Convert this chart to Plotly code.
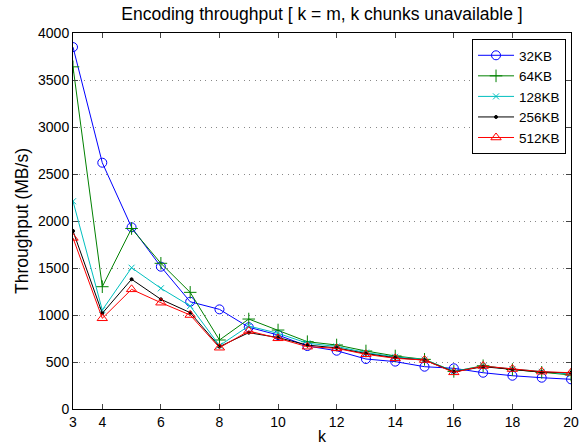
import plotly.graph_objects as go

k = list(range(3, 21))
s32 = [3850, 2620, 1933, 1514, 1141, 1060, 870, 787, 670, 620, 532, 504, 450, 433, 386, 354, 333, 316]
s64 = [3640, 1301, 1920, 1550, 1241, 734, 957, 840, 716, 681, 617, 564, 528, 400, 460, 420, 390, 362]
s128 = [2210, 1053, 1503, 1284, 1096, 674, 883, 805, 700, 665, 600, 555, 525, 400, 455, 425, 395, 370]
s256 = [1894, 1018, 1380, 1167, 1025, 663, 812, 760, 680, 650, 590, 545, 520, 395, 450, 422, 392, 385]
s512 = [1820, 965, 1273, 1131, 1000, 652, 830, 752, 663, 645, 582, 539, 521, 390, 457, 425, 397, 386]

names = ["32KB", "64KB", "128KB", "256KB", "512KB"]
series = [s32, s64, s128, s256, s512]
colors = ["#0000ff", "#008000", "#00bfbf", "#000000", "#ff0000"]
symbols = ["circle-open", "cross-thin-open", "x-thin-open", "circle", "triangle-up-open"]
sizes = [9, 9, 6, 3, 9]

x_ticks = [3, 4, 6, 8, 10, 12, 14, 16, 18, 20]
y_ticks = list(range(0, 4001, 500))

FONT = "Liberation Sans, Arial, Helvetica, sans-serif"

fig = go.Figure()
for n, s, c, sym, sz in zip(names, series, colors, symbols, sizes):
    fig.add_trace(go.Scatter(
        x=k, y=s, name=n, mode="lines+markers",
        line=dict(color=c, width=1),
        marker=dict(symbol=sym, size=sz, color=c, line=dict(color=c, width=1)),
    ))

fig.update_layout(
    width=582, height=446,
    margin=dict(l=73, r=11, t=33, b=37, autoexpand=False),
    paper_bgcolor="white", plot_bgcolor="white",
    font=dict(family=FONT, size=14, color="black"),
    title=dict(text="Encoding throughput [ k = m, k chunks unavailable ]",
               xref="paper", x=0.5, xanchor="center",
               y=1 - 14 / 446, yanchor="middle",
               font=dict(size=17.5)),
    legend=dict(x=0.99, y=0.984, xanchor="right", yanchor="top",
                bordercolor="black", borderwidth=1, bgcolor="white",
                font=dict(size=13.5), tracegroupgap=0, itemwidth=36),
    showlegend=True,
)
fig.update_xaxes(
    range=[3, 20], tickvals=x_ticks, ticks="inside", ticklen=5,
    showline=True, linecolor="black", linewidth=1, mirror="ticks",
    showgrid=False, zeroline=False, automargin=False,
    title=dict(text="k", standoff=2, font=dict(size=16)),
)
fig.update_yaxes(
    range=[0, 4000], tickvals=y_ticks, ticks="inside", ticklen=5,
    showline=True, linecolor="black", linewidth=1, mirror="ticks",
    showgrid=True, gridcolor="#888888", griddash="1px,4.5px", gridwidth=1,
    zeroline=False, automargin=False,
    title=dict(text="Throughput (MB/s)", standoff=4, font=dict(size=17.5)),
)

fig.write_html("out.html", config={"displayModeBar": False},
               post_script="document.body.style.margin='0px';")
